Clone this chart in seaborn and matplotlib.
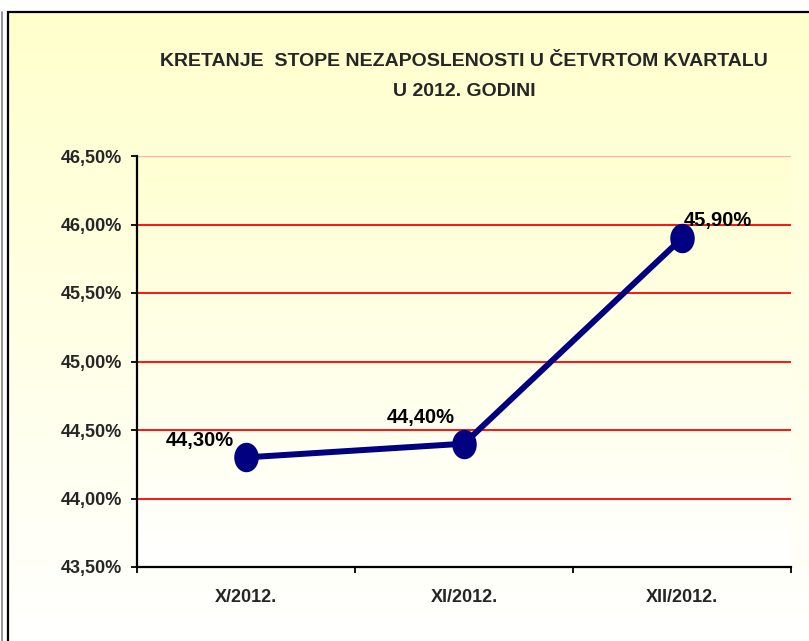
import numpy as np
import pandas as pd
import matplotlib
matplotlib.use("Agg")
import matplotlib.pyplot as plt
from matplotlib.patches import Rectangle
from matplotlib.path import Path
from matplotlib.colors import LinearSegmentedColormap
import seaborn as sns

months = ["X/2012.", "XI/2012.", "XII/2012."]
rates = [44.30, 44.40, 45.90]
point_labels = ["44,30%", "44,40%", "45,90%"]
y_ticks = [43.5, 44.0, 44.5, 45.0, 45.5, 46.0, 46.5]
y_tick_labels = ["43,50%", "44,00%", "44,50%", "45,00%", "45,50%", "46,00%", "46,50%"]
title = "KRETANJE  STOPE NEZAPOSLENOSTI U ČETVRTOM KVARTALU\nU 2012. GODINI"

sns.set_style("white")
fonts = ["Liberation Sans", "DejaVu Sans"]
plt.rcParams["font.family"] = fonts
plt.rcParams["font.weight"] = "bold"

df = pd.DataFrame({"month": months, "rate": rates})

fig = plt.figure(figsize=(8.09, 6.41), dpi=100)
fig.patch.set_facecolor("white")

# chart area background: yellow fading to white
bg = fig.add_axes([8 / 809, 0, 1 - 8 / 809, 1 - 12 / 641], zorder=-2)
grad_cmap = LinearSegmentedColormap.from_list("yw", ["#FFFFFF", "#FFFFCC"])
bg.imshow(np.linspace(0, 1, 256).reshape(-1, 1)[::-1], aspect="auto",
          cmap=grad_cmap, extent=[0, 1, 0, 1])
bg.set_axis_off()
fig.patches.append(Rectangle((8 / 809, -0.1), 1.2, 1.1 - 12 / 641,
                             transform=fig.transFigure, fill=False,
                             edgecolor="black", linewidth=1.6, zorder=5))
fig.lines.append(plt.Line2D([2 / 809, 2 / 809], [0, 1 - 12 / 641],
                            transform=fig.transFigure, color="#808080", linewidth=1.2))

ax = fig.add_axes([137 / 809, 1 - 567 / 641, 654 / 809, 411 / 641])
ax.patch.set_alpha(0)

# ellipse marker
t = np.linspace(0, 2 * np.pi, 60)
ellipse = Path(np.column_stack([0.8 * np.cos(t), np.sin(t)]), closed=True)

sns.pointplot(data=df, x="month", y="rate", color="#000080", markers=ellipse,
              errorbar=None, linewidth=4.3, markersize=18, ax=ax)

ax.set_xlim(-0.5, 2.5)
ax.set_ylim(43.5, 46.5)

plot_cmap = LinearSegmentedColormap.from_list("pw", ["#FFFFFF", "#FFFFD2"])
ax.imshow(np.linspace(0, 1, 256).reshape(-1, 1)[::-1], aspect="auto",
          cmap=plot_cmap, extent=[-0.5, 2.5, 43.5, 46.5], zorder=0)

for yv in y_ticks[1:-1]:
    ax.axhline(yv, color="#FF0000", linewidth=1.3, zorder=1)
ax.axhline(y_ticks[-1], color="#FFB0B0", linewidth=1.0, zorder=1)

for sp in ["top", "right"]:
    ax.spines[sp].set_visible(False)
for sp in ["left", "bottom"]:
    ax.spines[sp].set_color("black")
    ax.spines[sp].set_linewidth(1.6)

ax.set_yticks(y_ticks)
ax.set_yticklabels(y_tick_labels, fontsize=13, fontweight="bold")
ax.tick_params(axis="y", length=4, width=1.3, color="black", pad=7, left=True)

ax.set_xticks([-0.5, 0.5, 1.5, 2.5])
ax.set_xticklabels([])
ax.set_xticks([0, 1, 2], minor=True)
ax.set_xticklabels(months, minor=True, fontsize=13, fontweight="bold")
ax.tick_params(axis="x", which="major", length=4, width=1.3, color="black", bottom=True)
ax.tick_params(axis="x", which="minor", length=0, pad=16)
ax.set_xlabel("")
ax.set_ylabel("")

# data labels
offsets = [(-9, 5, "right"), (-7, 12, "right"), (1, 6, "left")]
for i, (lab, (dx, dy, ha)) in enumerate(zip(point_labels, offsets)):
    ax.annotate(lab, (i, rates[i]), xytext=(dx, dy), textcoords="offset points",
                ha=ha, va="bottom", fontsize=14.5, fontweight="bold", color="black",
                zorder=6)

fig.text(464 / 809, 1 - 53 / 641, title, ha="center", va="top", fontsize=14,
         fontweight="bold", linespacing=2.0)

fig.savefig("out.png", dpi=100)
